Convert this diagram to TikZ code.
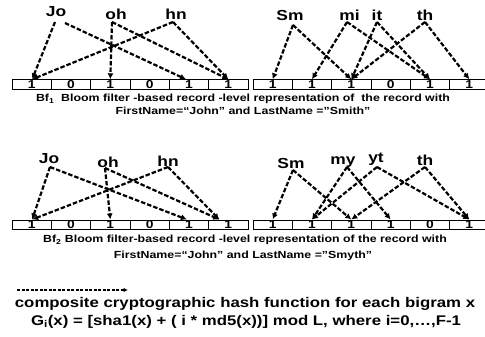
\documentclass[tikz,border=0pt]{standalone}
\usepackage{fontspec}
\setmainfont{Liberation Sans}[FakeStretch=1.2]
\usetikzlibrary{arrows.meta}
\begin{document}
\begin{tikzpicture}[x=1pt,y=-1pt,
  font=\bfseries,
  cell/.style={draw, line width=0.9pt, minimum width=39.33pt, minimum height=9.5pt, inner sep=0pt, font=\fontsize{11.5}{11.5}\selectfont\bfseries},
  gram/.style={anchor=base, inner sep=0pt, font=\fontsize{14.5}{14.5}\selectfont\bfseries},
  captext/.style={inner sep=0pt, font=\fontsize{10.3}{12}\selectfont\bfseries},
  big/.style={inner sep=0pt, font=\fontsize{14}{16}\selectfont\bfseries},
  hash/.style={line width=2.2pt, dash pattern=on 4.5pt off 2pt, -{Latex[length=6pt,width=6pt]}},
  legend/.style={line width=1.6pt, dash pattern=on 3pt off 1.5pt, -{Latex[length=4.5pt,width=4.5pt]}},
]
\useasboundingbox (0,0) rectangle (485,337);
\clip (0,0) rectangle (485,337);
% bit arrays
\foreach \v [count=\i] in {1,0,1,0,1,1}
  \node[cell] (a\i) at ({12+39.33*(\i-0.5)},84.5) {\v};
\foreach \v [count=\i] in {1,1,1,0,1,1}
  \node[cell] (b\i) at ({253+39.33*(\i-0.5)},84.5) {\v};
\foreach \v [count=\i] in {1,0,1,0,1,1}
  \node[cell] (c\i) at ({12+39.33*(\i-0.5)},224.7) {\v};
\foreach \v [count=\i] in {1,1,1,1,0,1}
  \node[cell] (d\i) at ({253+39.33*(\i-0.5)},224.7) {\v};
% bigrams row 1
\node[gram] (Jo1) at (56,17) {Jo};
\node[gram] (oh1) at (116,19.5) {oh};
\node[gram] (hn1) at (176,19.5) {hn};
\node[gram] (Sm1) at (290,20.5) {Sm};
\node[gram] (mi1) at (349.5,20.5) {mi};
\node[gram] (it1) at (377,20.5) {it};
\node[gram] (th1) at (425,20.5) {th};
% bigrams row 2
\node[gram] (Jo2) at (49,163) {Jo};
\node[gram] (oh2) at (108,167) {oh};
\node[gram] (hn2) at (168,166) {hn};
\node[gram] (Sm2) at (291,168) {Sm};
\node[gram] (my2) at (343,164) {my};
\node[gram] (yt2) at (376,162) {yt};
\node[gram] (th2) at (425,165) {th};
% arrows row 1 left
\draw[hash] ([shift={(-1,5)}]Jo1.base) -- ([xshift=0.5pt]a1.north);
\draw[hash] ([shift={(9,6)}]Jo1.base) -- ([xshift=-3pt]a5.north);
\draw[hash] ([shift={(-4,2.5)}]oh1.base) -- (a3.north);
\draw[hash] ([shift={(-4,2.5)}]oh1.base) -- (a6.north);
\draw[hash] ([shift={(-3,2.5)}]hn1.base) -- ([xshift=0.5pt]a1.north);
\draw[hash] ([shift={(-3,2.5)}]hn1.base) -- (a6.north);
% arrows row 1 right
\draw[hash] ([shift={(3,4.5)}]Sm1.base) -- (b1.north);
\draw[hash] ([shift={(3,4.5)}]Sm1.base) -- (b3.north);
\draw[hash] ([shift={(-2.5,1.5)}]mi1.base) -- (b2.north);
\draw[hash] ([shift={(-2.5,1.5)}]mi1.base) -- (b5.north);
\draw[hash] ([shift={(0,1.5)}]it1.base) -- (b3.north);
\draw[hash] ([shift={(0,1.5)}]it1.base) -- (b5.north);
\draw[hash] ([shift={(0,1.5)}]th1.base) -- (b3.north);
\draw[hash] ([shift={(0,1.5)}]th1.base) -- (b6.north);
% arrows row 2 left
\draw[hash] ([shift={(1,4)}]Jo2.base) -- ([xshift=0.5pt]c1.north);
\draw[hash] ([shift={(1,4)}]Jo2.base) -- ([xshift=-2pt]c5.north);
\draw[hash] ([shift={(-3,1)}]oh2.base) -- (c3.north);
\draw[hash] ([shift={(-3,1)}]oh2.base) -- ([xshift=-9pt]c6.north);
\draw[hash] ([shift={(0,1)}]hn2.base) -- ([xshift=0.5pt]c1.north);
\draw[hash] ([shift={(0,1)}]hn2.base) -- ([xshift=-9pt]c6.north);
% arrows row 2 right
\draw[hash] ([shift={(2,2)}]Sm2.base) -- (d1.north);
\draw[hash] ([shift={(2,2)}]Sm2.base) -- (d3.north);
\draw[hash] ([shift={(4,3)}]my2.base) -- (d2.north);
\draw[hash] ([shift={(4,3)}]my2.base) -- (d4.north);
\draw[hash] ([shift={(1,5)}]yt2.base) -- (d2.north);
\draw[hash] ([shift={(1,5)}]yt2.base) -- (d6.north);
\draw[hash] ([shift={(0,2)}]th2.base) -- (d3.north);
\draw[hash] ([shift={(0,2)}]th2.base) -- (d6.north);
% captions
\node[captext] (cap1a) at (243,99) {Bf\textsubscript{1}\ \ Bloom filter -based record -level representation of\ \ the record with};
\node[captext] (cap1b) at (243,111) {FirstName=“John” and LastName =”Smith”};
\node[captext] (cap2a) at (245,240) {Bf\textsubscript{2} Bloom filter-based record -level representation of the record with};
\node[captext] (cap2b) at (243,256) {FirstName=“John” and LastName =”Smyth”};
% legend
\coordinate (l1) at (17,290);
\coordinate (l2) at (128,290);
\draw[legend] (l1) -- (l2);
\node[big] (leg1) at (245,304) {composite cryptographic hash function for each bigram x};
\node[big] (leg2) at (246,322) {G\textsubscript{i}(x) = [sha1(x) + ( i * md5(x))] mod L, where i=0,…,F-1};
\end{tikzpicture}
\end{document}
